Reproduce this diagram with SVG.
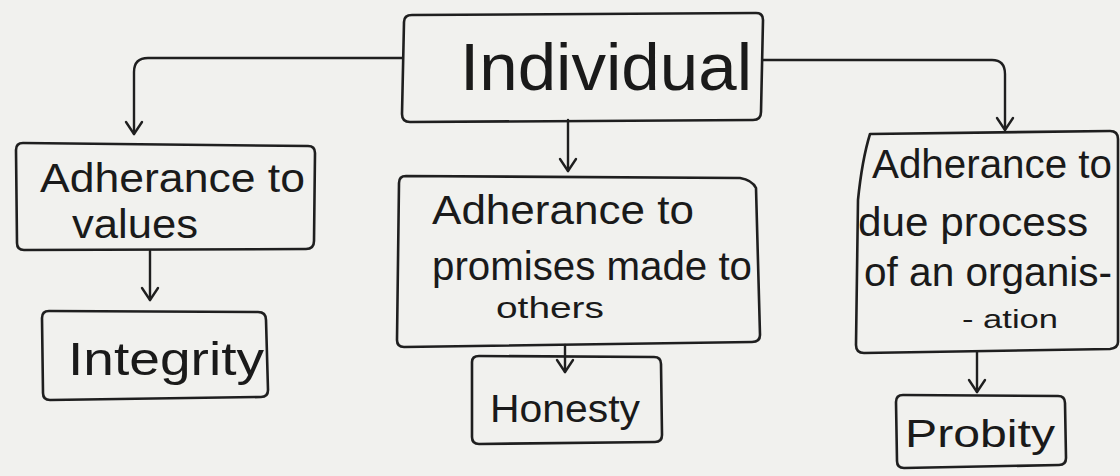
<svg xmlns="http://www.w3.org/2000/svg" width="1120" height="476" viewBox="0 0 1120 476">
<style>
.box{fill:none;stroke:#1f1f1f;stroke-width:2.6;stroke-linejoin:round;stroke-linecap:round}
.con{fill:none;stroke:#1f1f1f;stroke-width:2.4;stroke-linecap:round}
text{font-family:"Liberation Sans","DejaVu Sans",sans-serif;fill:#1a1a1a}
.t{font-size:40px}
.s{font-size:30px}
</style>
<defs>
<marker id="arr" viewBox="0 0 20 20" refX="18" refY="10" markerWidth="20" markerHeight="20" markerUnits="userSpaceOnUse" orient="auto">
<path d="M6 2 L18 10 L6 18" fill="none" stroke="#1f1f1f" stroke-width="2.4" stroke-linecap="round" stroke-linejoin="round"/>
</marker>
</defs>
<rect width="1120" height="476" fill="#f1f1ee"/>
<g id="connectors">
<path class="con" d="M402 58 L148 58 Q134 58 134 72 L134 134" marker-end="url(#arr)"/>
<path class="con" d="M763 60 L992 60 Q1005 60 1005 74 L1005 130" marker-end="url(#arr)"/>
<path class="con" d="M568 120 L568 171" marker-end="url(#arr)"/>
<path class="con" d="M150 251 L150 300" marker-end="url(#arr)"/>
<path class="con" d="M565 345 L565 372" marker-end="url(#arr)"/>
<path class="con" d="M977 352 L977 392" marker-end="url(#arr)"/>
</g>
<g id="individual">
<path class="box" d="M404 22 Q404 15 412 15 L756 13 Q763 13 763 20 L761 112 Q761 120 753 120 L410 122 Q402 122 402 114 Z"/>
<text x="460" y="90" font-size="66" textLength="292" lengthAdjust="spacingAndGlyphs">Individual</text>
</g>
<g id="values">
<path class="box" d="M16 150 Q16 143 23 143 L308 146 Q315 146 315 153 L314 241 Q314 249 306 249 L24 250 Q17 250 17 243 Z"/>
<text class="t" x="40" y="192" textLength="265" lengthAdjust="spacingAndGlyphs">Adherance to</text>
<text class="t" x="72" y="238" textLength="126" lengthAdjust="spacingAndGlyphs">values</text>
</g>
<g id="integrity">
<path class="box" d="M42 318 Q42 311 49 311 L258 312 Q266 312 266 320 L268 390 Q268 397 261 397 L50 400 Q43 400 43 393 Z"/>
<text x="68" y="375" font-size="46" textLength="196" lengthAdjust="spacingAndGlyphs">Integrity</text>
</g>
<g id="promises">
<path class="box" d="M406 176 L740 178 Q752 180 756 188 L760 335 Q760 342 752 342 L404 347 Q397 347 397 340 L399 183 Q399 176 406 176 Z"/>
<text class="t" x="432" y="224" textLength="262" lengthAdjust="spacingAndGlyphs">Adherance to</text>
<text class="t" x="432" y="280" textLength="320" lengthAdjust="spacingAndGlyphs">promises made to</text>
<text class="s" x="496" y="318" textLength="108" lengthAdjust="spacingAndGlyphs">others</text>
</g>
<g id="honesty">
<path class="box" d="M472 362 Q472 356 479 356 L654 357 Q661 357 661 364 L662 435 Q662 442 655 442 L479 444 Q472 444 472 437 Z"/>
<text x="490" y="422" font-size="38" textLength="150" lengthAdjust="spacingAndGlyphs">Honesty</text>
</g>
<g id="process">
<path class="box" d="M870 134 L1110 131 Q1118 131 1118 139 L1118 342 Q1118 348 1110 349 L864 353 Q856 353 856 345 L858 200 Q862 160 870 134 Z"/>
<text class="t" x="872" y="178" textLength="240" lengthAdjust="spacingAndGlyphs">Adherance to</text>
<text class="t" x="858" y="236" textLength="230" lengthAdjust="spacingAndGlyphs">due process</text>
<text class="t" x="864" y="286" textLength="248" lengthAdjust="spacingAndGlyphs">of an organis-</text>
<text x="962" y="328" font-size="26" textLength="96" lengthAdjust="spacingAndGlyphs">- ation</text>
</g>
<g id="probity">
<path class="box" d="M896 402 Q896 395 903 395 L1058 396 Q1065 396 1065 403 L1066 458 Q1066 465 1059 465 L904 468 Q897 468 897 461 Z"/>
<text x="905" y="447" font-size="38" textLength="150" lengthAdjust="spacingAndGlyphs">Probity</text>
</g>
</svg>
